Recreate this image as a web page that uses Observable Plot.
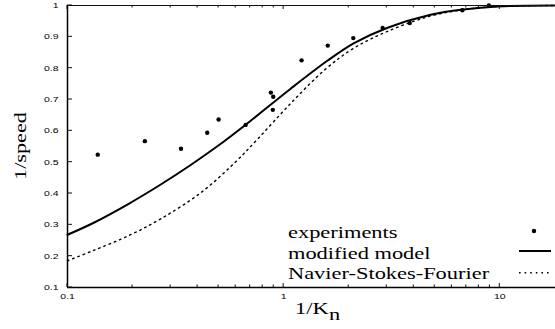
<!DOCTYPE html>
<html>
<head>
<meta charset="utf-8">
<script src="https://cdn.jsdelivr.net/npm/d3@7"></script>
<script src="https://cdn.jsdelivr.net/npm/@observablehq/plot@0.6"></script>
<style>
  html, body { margin: 0; padding: 0; background: #fff; }
  svg { display: block; }
</style>
</head>
<body>
<div id="chart"></div>
<script>
// ---- data ----
const expX = [0.138, 0.228, 0.335, 0.443, 0.500, 0.667, 0.873, 0.895, 0.891, 1.21, 1.60, 2.10, 2.87, 3.83, 6.71, 8.9];
const expY = [0.524, 0.567, 0.543, 0.594, 0.636, 0.619, 0.722, 0.709, 0.667, 0.825, 0.872, 0.896, 0.928, 0.944, 0.985, 1.0];

const modX = [0.1, 0.1323, 0.1901, 0.2700, 0.3715, 0.4953, 0.6673, 1.0775, 1.598, 2.107, 3.026, 4.783, 6.797, 9.759, 18.1];
const modY = [0.2683, 0.3067, 0.3655, 0.4287, 0.4910, 0.5514, 0.6195, 0.7345, 0.8243, 0.8792, 0.9291, 0.9703, 0.9872, 0.9968, 1.0];

const nsfX = [0.1, 0.1323, 0.1901, 0.2700, 0.4133, 0.5872, 0.7581, 1.0775, 1.564, 2.107, 3.026, 4.783, 6.797, 9.759, 18.1];
const nsfY = [0.1853, 0.2185, 0.2642, 0.3191, 0.4022, 0.4949, 0.5738, 0.6875, 0.7971, 0.8633, 0.9176, 0.9665, 0.9866, 0.9968, 1.0];

const xTicks = [0.1, 1, 10];
const xTickLabels = ["0.1", "1", "10"];
const yTicks = [0.1, 0.2, 0.3, 0.4, 0.5, 0.6, 0.7, 0.8, 0.9, 1];
const yTickLabels = ["0.1", "0.2", "0.3", "0.4", "0.5", "0.6", "0.7", "0.8", "0.9", "1"];
const seriesNames = ["experiments", "modified model", "Navier-Stokes-Fourier"];
const xLabelMain = "1/K";
const xLabelSub = "n";
const yLabel = "1/speed";

// ---- tables ----
const expData = expX.map((x, i) => ({x, y: expY[i]}));
const modData = modX.map((x, i) => ({x, y: modY[i]}));
const nsfData = nsfX.map((x, i) => ({x, y: nsfY[i]}));

const xDomain = [0.1, 18.1];
const yDomain = [0.1, 1];
const STRETCH = 1.4;

const chart = Plot.plot({
  width: 555,
  height: 329,
  marginLeft: 67,
  marginRight: 0,
  marginTop: 5,
  marginBottom: 42,
  x: {type: "log", domain: xDomain},
  y: {type: "linear", domain: yDomain},
  style: {background: "white", fontFamily: "'Liberation Sans', Arial, sans-serif", color: "#000"},
  marks: [
    Plot.axisX({ticks: xTicks, tickSize: 0, tickPadding: 6, fontSize: 7.5,
      tickFormat: d => xTickLabels[xTicks.indexOf(d)], label: null}),
    Plot.axisY({ticks: yTicks, tickSize: 0, tickPadding: 9, fontSize: 7.5,
      tickFormat: d => yTickLabels[yTicks.findIndex(t => Math.abs(t - d) < 1e-9)], label: null}),
    Plot.line(nsfData, {x: "x", y: "y", curve: "catmull-rom", stroke: "#000", strokeWidth: 1.4, strokeDasharray: "1.6,4"}),
    Plot.line(modData, {x: "x", y: "y", curve: "catmull-rom", stroke: "#000", strokeWidth: 2}),
    Plot.dot(expData, {x: "x", y: "y", r: 2.2, fill: "#000", stroke: "none"}),
    Plot.ruleY([yDomain[1]], {stroke: "#111", strokeWidth: 1.2}),
    Plot.ruleY([yDomain[0]], {stroke: "#000", strokeWidth: 1.5}),
    Plot.ruleX([xDomain[0]], {stroke: "#000", strokeWidth: 1.5})
  ]
});

document.getElementById("chart").appendChild(chart);

const svg = d3.select(chart);
const xs = chart.scale("x");
const ys = chart.scale("y");
const X = v => xs.apply(v);
const Y = v => ys.apply(v);

// stretch tick labels horizontally like the reference
svg.selectAll('g[aria-label="x-axis tick label"] text, g[aria-label="y-axis tick label"] text').each(function() {
  const w = this.getComputedTextLength();
  this.setAttribute("textLength", (w * STRETCH).toFixed(2));
  this.setAttribute("lengthAdjust", "spacingAndGlyphs");
});

// inward tick marks (bottom, top, left)
const minor = [];
for (let dec = 0.1; dec < xDomain[1]; dec *= 10) {
  for (let k = 2; k <= 9; k++) {
    const v = +(dec * k).toPrecision(6);
    if (v < xDomain[1]) minor.push(v);
  }
}
const tg = svg.append("g").attr("stroke", "#111").attr("stroke-width", 1);
const yB = Y(yDomain[0]), yT = Y(yDomain[1]), xL = X(xDomain[0]);
xTicks.forEach(v => {
  tg.append("line").attr("x1", X(v)).attr("x2", X(v)).attr("y1", yB).attr("y2", yB - 4);
  tg.append("line").attr("x1", X(v)).attr("x2", X(v)).attr("y1", yT).attr("y2", yT + 4);
});
minor.forEach(v => {
  tg.append("line").attr("x1", X(v)).attr("x2", X(v)).attr("y1", yB).attr("y2", yB - 2.5);
  tg.append("line").attr("x1", X(v)).attr("x2", X(v)).attr("y1", yT).attr("y2", yT + 2.5);
});
yTicks.forEach(v => {
  tg.append("line").attr("x1", xL).attr("x2", xL + 5).attr("y1", Y(v)).attr("y2", Y(v));
});

// serif text helper with horizontal stretch
function serifText(g, x, y, str, size) {
  const t = g.append("text").attr("x", x).attr("y", y)
    .attr("text-anchor", "start")
    .attr("font-family", "'Liberation Serif', 'Times New Roman', serif")
    .attr("font-size", size).attr("fill", "#000").text(str);
  const w = t.node().getComputedTextLength();
  t.attr("textLength", (w * STRETCH).toFixed(2)).attr("lengthAdjust", "spacingAndGlyphs");
  return t;
}

// legend
const lg = svg.append("g");
const legX = 288, legBase = [237.5, 258.5, 279];
seriesNames.forEach((s, i) => serifText(lg, legX, legBase[i], s, 16));
lg.append("circle").attr("cx", 534).attr("cy", 231).attr("r", 2.2).attr("fill", "#000");
lg.append("line").attr("x1", 519).attr("x2", 551).attr("y1", 251).attr("y2", 251)
  .attr("stroke", "#000").attr("stroke-width", 2);
lg.append("line").attr("x1", 519).attr("x2", 551).attr("y1", 272.7).attr("y2", 272.7)
  .attr("stroke", "#000").attr("stroke-width", 1.4).attr("stroke-dasharray", "1.6,4");

// x axis label 1/K_n
const xl = svg.append("g");
const main = serifText(xl, 295, 314, xLabelMain, 16);
const mw = +main.attr("textLength");
serifText(xl, 295 + mw + 0.5, 320, xLabelSub, 16);

// y axis label
const yl = svg.append("text")
  .attr("transform", `translate(26,${(yT + yB) / 2}) rotate(-90)`)
  .attr("text-anchor", "middle")
  .attr("font-family", "'Liberation Serif', 'Times New Roman', serif")
  .attr("font-size", 16).attr("fill", "#000").text(yLabel);
yl.attr("textLength", 68).attr("lengthAdjust", "spacingAndGlyphs");
</script>
</body>
</html>
